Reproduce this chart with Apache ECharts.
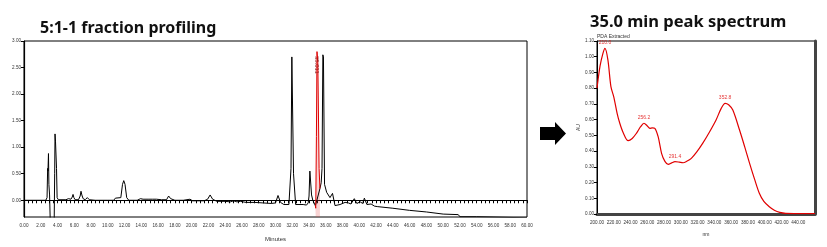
<!DOCTYPE html>
<html><head><meta charset="utf-8">
<script src="https://cdn.jsdelivr.net/npm/echarts@6/dist/echarts.min.js"></script>
<style>html,body{margin:0;padding:0;background:#fff}#c{width:827px;height:247px}</style>
</head><body><div id="c"></div>
<script>
// Chromatogram (5:1-1 fraction profiling), minutes vs AU
const chromTime = [0, 2.6, 2.75, 2.82, 2.86, 2.92, 2.97, 3.05, 3.15, 3.3, 3.45, 3.6, 3.66, 3.7, 3.76, 3.8, 3.88, 3.95, 4.1, 5.0, 5.3, 5.6, 5.75, 5.85, 5.95, 6.1, 6.5, 6.7, 6.8, 6.9, 7.05, 7.3, 7.55, 7.8, 8.5, 10.0, 10.7, 10.9, 11.1, 11.55, 11.75, 11.9, 12.05, 12.25, 12.5, 13.5, 13.9, 14.2, 14.8, 15.0, 15.3, 15.5, 15.8, 16.0, 16.4, 17.0, 17.25, 17.5, 18.0, 19.0, 19.8, 20.1, 21.5, 21.9, 22.2, 22.5, 23.0, 24.0, 24.6, 25.0, 25.4, 25.8, 26.5, 27.5, 28.5, 29.5, 30.0, 30.3, 30.6, 31.0, 31.6, 31.85, 31.95, 32.05, 32.15, 32.4, 33.3, 33.7, 33.9, 34.0, 34.1, 34.2, 34.3, 34.45, 34.6, 34.75, 34.85, 35.3, 35.45, 35.55, 35.65, 35.72, 35.85, 36.1, 36.5, 36.8, 37.1, 37.7, 38.3, 38.5, 38.7, 39.0, 39.4, 39.7, 40.1, 40.4, 40.6, 40.9, 41.4, 41.8, 42.2, 44.0, 46.0, 48.0, 50.0, 51.8, 52.0, 54.0, 60.0];
const chromAU   = [0, 0, 0.05, 0.6, 0.55, 0.88, 0.3, 0.1, -0.5, -0.6, -0.5, -0.4, 0.5, 1.25, 1.1, 1.1, 0.6, 0.05, 0.01, 0.01, 0.03, 0.02, 0.06, 0.11, 0.05, 0.01, 0.01, 0.08, 0.17, 0.1, 0.03, 0.01, 0.05, 0.01, 0.0, 0.0, 0.0, 0.04, 0.01, 0.05, 0.3, 0.37, 0.3, 0.05, 0.0, 0.0, 0.03, 0.02, 0.02, 0.04, 0.02, 0.04, 0.02, 0.03, 0.01, 0.01, 0.08, 0.03, 0.0, 0.0, 0.02, -0.01, -0.01, 0.02, 0.1, 0.02, -0.02, -0.02, -0.03, -0.01, -0.03, -0.02, -0.04, -0.04, -0.05, -0.06, -0.05, 0.09, -0.04, -0.08, -0.08, 0.6, 2.70, 2.68, 0.5, -0.08, -0.08, -0.09, -0.05, 0.08, 0.55, 0.52, 0.1, 0.0, -0.05, -0.1, -0.05, 0.22, 0.33, 0.6, 2.74, 2.7, 0.3, 0.15, 0.05, 0.13, -0.1, -0.08, -0.04, -0.06, -0.05, -0.07, 0.03, -0.06, -0.03, -0.06, 0.04, -0.08, -0.07, -0.11, -0.12, -0.15, -0.19, -0.22, -0.26, -0.27, -0.31, -0.31, -0.33];
// Highlighted (integrated) peak at 35.0 min
const redTime = [34.75, 34.8, 34.88, 34.95, 35.05, 35.2, 35.3];
const redAU   = [-0.1, -0.15, 1.2, 2.80, 2.6, 0.6, 0.22];
const redLabel = '35.011';
// Chromatogram axes
const chromYTicks = [0, 0.5, 1.0, 1.5, 2.0, 2.5, 3.0];

// UV spectrum at 35.0 min (nm vs AU)
const specNm = [200, 203.6, 207, 209.5, 213, 216.6, 220, 224, 227, 231, 237.2, 242, 247, 252, 256, 260, 263, 266, 269, 273, 277, 281, 285, 289, 293, 298, 302.6, 307, 312.5, 319, 326, 334, 342, 348, 352.8, 357, 362, 370, 376, 382, 388, 393.6, 399, 405.5, 412, 418, 425, 435, 445, 460];
const specAU = [0.80, 0.94, 1.02, 1.053, 0.98, 0.81, 0.745, 0.64, 0.58, 0.52, 0.466, 0.48, 0.513, 0.555, 0.577, 0.56, 0.545, 0.548, 0.545, 0.49, 0.386, 0.335, 0.316, 0.325, 0.333, 0.33, 0.326, 0.335, 0.354, 0.395, 0.449, 0.52, 0.598, 0.67, 0.704, 0.695, 0.661, 0.534, 0.43, 0.322, 0.22, 0.132, 0.08, 0.046, 0.022, 0.01, 0.004, 0.003, 0.003, 0.003];
const specPeakNm = [209.5, 256, 293, 352.8];
const specPeakAU = [1.053, 0.577, 0.333, 0.704];
const specPeakLabels = ['210.0', '256.2', '291.4', '352.8'];

const chrom = chromTime.map((t, i) => [t, chromAU[i]]);
const red = redTime.map((t, i) => [t, redAU[i]]);
const spec = specNm.map((t, i) => [t, specAU[i]]);
const peaks = specPeakNm.map((t, i) => ({ value: [t, specPeakAU[i]], label: { formatter: specPeakLabels[i] } }));

const tinier = { fontSize: 4.6, color: '#333', fontFamily: 'Liberation Sans Narrow, Liberation Sans' };
const chart = echarts.init(document.getElementById('c'), null, { renderer: 'canvas' });
chart.setOption({
  animation: false,
  backgroundColor: '#fff',
  title: [
    { text: '5:1-1 fraction profiling', left: 40, top: 20, padding: 0, textStyle: { fontSize: 16, fontWeight: 'bold', color: '#111', fontFamily: 'Noto Sans' } },
    { text: '35.0 min peak spectrum', left: 590, top: 14, padding: 0, textStyle: { fontSize: 16.5, fontWeight: 'bold', color: '#111', fontFamily: 'Noto Sans' } },
    { text: 'PDA Extracted', left: 597, top: 34, padding: 0, textStyle: { fontSize: 5, fontWeight: 'normal', color: '#333', fontFamily: 'Liberation Sans' } }
  ],
  graphic: [
    { type: 'polygon', shape: { points: [[540, 127], [555, 127], [555, 122], [566, 133.5], [555, 145], [555, 140], [540, 140]] }, style: { fill: '#000' } }
  ],
  grid: [
    { left: 24, right: 300, top: 41, bottom: 30, outerBoundsMode: 'none', containLabel: false, show: true, borderColor: '#000', borderWidth: 1, backgroundColor: 'transparent' },
    { left: 597, right: 12, top: 41, bottom: 33, outerBoundsMode: 'none', containLabel: false, show: true, borderColor: '#000', borderWidth: 1, backgroundColor: 'transparent' }
  ],
  xAxis: [
    { gridIndex: 0, type: 'value', min: 0, max: 60, interval: 2,
      name: 'Minutes', nameLocation: 'middle', nameGap: 19, nameTextStyle: { fontSize: 6, color: '#333' },
      axisLine: { lineStyle: { color: '#000', width: 1.2 } },
      axisTick: { length: 3, lineStyle: { color: '#000' } },
      minorTick: { show: true, splitNumber: 4, length: 3, lineStyle: { color: '#000' } },
      axisLabel: Object.assign({ margin: 6, formatter: v => v.toFixed(2) }, tinier),
      splitLine: { show: false } },
    { gridIndex: 1, type: 'value', min: 200, max: 460, interval: 20,
      name: 'nm', nameLocation: 'middle', nameGap: 18, nameTextStyle: { fontSize: 5, color: '#333' },
      axisLine: { lineStyle: { color: '#444', width: 3 } },
      axisTick: { show: false },
      axisLabel: Object.assign({ margin: 6, showMaxLabel: false, formatter: v => v.toFixed(2) }, tinier),
      splitLine: { show: false } }
  ],
  yAxis: [
    { gridIndex: 0, type: 'value', min: -0.315, max: 3.0,
      name: 'AU', nameLocation: 'middle', nameGap: 15, nameRotate: 90, nameTextStyle: { fontSize: 6, color: '#333' },
      axisLine: { show: true, lineStyle: { color: '#000', width: 1.2 } },
      axisTick: { show: true, length: 3, customValues: chromYTicks, lineStyle: { color: '#000' } },
      axisLabel: Object.assign({ margin: 3, customValues: chromYTicks, formatter: v => v.toFixed(2) }, tinier),
      splitLine: { show: false } },
    { gridIndex: 1, type: 'value', min: 0, max: 1.1, interval: 0.1,
      name: 'AU', nameLocation: 'middle', nameGap: 14, nameRotate: 90, nameTextStyle: { fontSize: 5, color: '#333' },
      axisLine: { show: true, lineStyle: { color: '#000', width: 1 } },
      axisTick: { show: true, length: 3, lineStyle: { color: '#000' } },
      axisLabel: Object.assign({ margin: 3, formatter: v => v.toFixed(2) }, tinier),
      splitLine: { show: false } },
    { gridIndex: 1, type: 'value', min: 0, max: 1.1, position: 'right',
      axisLine: { show: true, lineStyle: { color: '#444', width: 3 } },
      axisTick: { show: false }, axisLabel: { show: false }, splitLine: { show: false } }
  ],
  series: [
    { type: 'line', xAxisIndex: 0, yAxisIndex: 0, data: chrom, symbol: 'none', clip: true,
      lineStyle: { color: '#000', width: 1 } },
    { type: 'line', xAxisIndex: 0, yAxisIndex: 0, data: red, symbol: 'none', clip: true,
      lineStyle: { color: '#e00000', width: 1 },
      areaStyle: { color: 'rgba(230,80,80,0.35)', origin: 'start' },
      markPoint: { symbol: 'rect', symbolSize: 0, data: [{ coord: [34.95, 2.55], label: { show: true, formatter: redLabel, rotate: -90, fontSize: 6, color: '#8b1a1a' } }] } },
    { type: 'line', xAxisIndex: 1, yAxisIndex: 1, data: spec, symbol: 'none', smooth: 0.3,
      lineStyle: { color: '#e00000', width: 1.2 } },
    { type: 'scatter', xAxisIndex: 1, yAxisIndex: 1, data: peaks, symbolSize: 0,
      label: { show: true, position: 'top', distance: 3, fontSize: 5, color: '#e00000' } }
  ]
});
</script></body></html>
